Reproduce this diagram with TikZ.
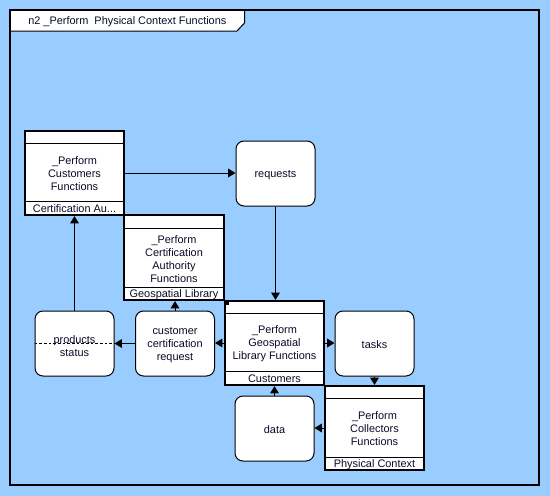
\documentclass[tikz,border=0pt]{standalone}
\usepackage{fontspec}
\setmainfont{Liberation Sans}
\usetikzlibrary{arrows.meta,calc}
\definecolor{bgblue}{RGB}{153,204,255}
\definecolor{ink}{RGB}{10,10,40}
\tikzset{
  fbox/.style={draw=black, line width=1.6pt, fill=white, inner sep=0pt},
  rbox/.style={draw=black, line width=0.75pt, fill=white, rounded corners=6pt, inner sep=0pt,
    minimum width=59.25pt, minimum height=48.75pt},
  txt/.style={align=center, inner sep=0pt, text=ink, font=\fontsize{8.2}{9.75}\selectfont},
  divider/.style={draw=black, line width=0.75pt},
  arr/.style={draw=black, line width=0.75pt, -{Triangle[length=5.5pt,width=6.5pt]}},
}
\begin{document}
\begin{tikzpicture}[x=0.75pt,y=-0.75pt]
\fill[bgblue] (0,0) rectangle (550,496);
\useasboundingbox (0,0) rectangle (550,496);
% frame
\draw[line width=1.5pt] (10,10) rectangle (539,484.5);
\draw[line width=0.75pt, fill=white] (10,10) -- (244.5,10) -- (244.5,23) -- (237,31) -- (10,31) -- cycle;
\draw[line width=1.5pt] (10,10) -- (539,10);
\draw[line width=1.5pt] (10,10) -- (10,31);
\node[txt, anchor=west] (title) at (28,21.5) {n2 \_Perform\ \ Physical Context Functions};

% function boxes
\node[fbox, minimum width=74.25pt, minimum height=63pt] (cust) at (74.5,173) {};
\draw[divider] ($(cust.north west)+(0,14)$) -- ($(cust.north east)+(0,14)$);
\draw[divider] ($(cust.south west)+(0,-15)$) -- ($(cust.south east)+(0,-15)$);
\node[txt] (custt) at (74.5,174) {\_Perform\\Customers\\Functions};
\node[txt] (custb) at (74.5,209) {Certification Au...};

\node[fbox, minimum width=75pt, minimum height=63.75pt] (cert) at (174,257.5) {};
\draw[divider] ($(cert.north west)+(0,15)$) -- ($(cert.north east)+(0,15)$);
\draw[divider] ($(cert.south west)+(0,-14)$) -- ($(cert.south east)+(0,-14)$);
\node[txt] (certt) at (174,259) {\_Perform\\Certification\\Authority\\Functions};
\node[txt] (certb) at (174,294.5) {Geospatial Library};

\node[fbox, minimum width=74.25pt, minimum height=63pt] (geo) at (274.5,343) {};
\draw[divider] ($(geo.north west)+(0,14)$) -- ($(geo.north east)+(0,14)$);
\draw[divider] ($(geo.south west)+(0,-15)$) -- ($(geo.south east)+(0,-15)$);
\fill[black] ($(geo.north west)+(1,1)$) rectangle ($(geo.north west)+(5,5)$);
\node[txt] (geot) at (274.5,344) {\_Perform\\Geospatial\\Library Functions};
\node[txt] (geob) at (274.5,379) {Customers};

\node[fbox, minimum width=74.25pt, minimum height=63pt] (coll) at (374.5,428) {};
\draw[divider] ($(coll.north west)+(0,14)$) -- ($(coll.north east)+(0,14)$);
\draw[divider] ($(coll.south west)+(0,-14)$) -- ($(coll.south east)+(0,-14)$);
\node[txt] (collt) at (374.5,429) {\_Perform\\Collectors\\Functions};
\node[txt] (collb) at (374.5,464.5) {Physical Context};

% rounded boxes
\node[rbox] (req) at (275.5,173.5) {};
\node[txt] (reqt) at (275.5,175) {requests};
\node[rbox] (prod) at (74.5,343.5) {};
\draw[line width=0.75pt, dashed, dash pattern=on 2pt off 1.5pt] (prod.west) -- (prod.east);
\node[txt] (prodt) at (74.5,346) {products\\status};
\node[rbox] (ccr) at (175,343.5) {};
\node[txt] (ccrt) at (175,345) {customer\\certification\\request};
\node[rbox] (tasks) at (374.5,343.5) {};
\node[txt] (taskst) at (374.5,345) {tasks};
\node[rbox] (data) at (274.5,428.5) {};
\node[txt] (datat) at (274.5,430) {data};

% connectors
\draw[arr] (cust.east) -- (cust.east -| req.west);
\draw[arr] (req.south) -- (req.south |- geo.north);
\draw[arr] (geo.west) -- (geo.west -| ccr.east);
\draw[arr] (ccr.west) -- (prod.east);
\draw[arr] (ccr.north) -- (ccr.north |- cert.south);
\draw[arr] (prod.north) -- (prod.north |- cust.south);
\draw[arr] (geo.east) -- (geo.east -| tasks.west);
\draw[arr] (tasks.south) -- (tasks.south |- coll.north);
\draw[arr] (coll.west) -- (coll.west -| data.east);
\draw[arr] (data.north) -- (data.north |- geo.south);
\end{tikzpicture}
\end{document}
